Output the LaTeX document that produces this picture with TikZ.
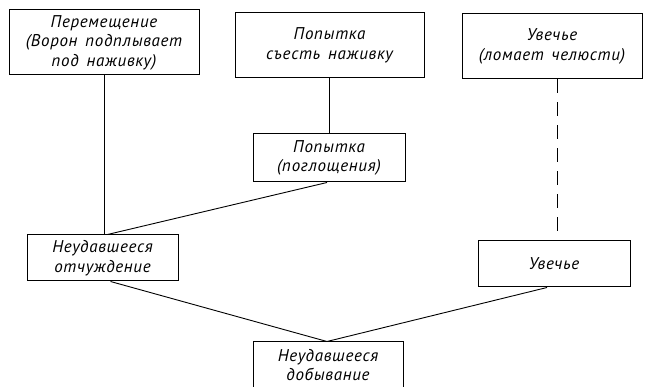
\documentclass[tikz,border=0pt]{standalone}
\usepackage{fontspec}
\setmainfont{PT Sans}
\newfontfamily\draftfont[LetterSpace=4,WordSpace=1.5]{PT Sans Italic}
\begin{document}
\begin{tikzpicture}[x=1pt,y=-1pt,
  box/.style={draw, line width=1pt, align=center, inner sep=0pt,
    font=\draftfont\fontsize{17}{19.5}\selectfont},
  link/.style={line width=0.9pt},
  brokenlink/.style={line width=0.9pt, dash pattern=on 14pt off 9pt}]
  \clip (0,0) rectangle (646,387);
  \fill[white] (0,0) rectangle (646,387);

  % upper row
  \node[box, minimum width=190, minimum height=65] (move) at (104,42.5)
    {Перемещение\\(Ворон подплывает\\под наживку)};
  \node[box, minimum width=189, minimum height=65] (eat) at (329.5,45.5)
    {Попытка\\съесть наживку};
  \node[box, minimum width=180, minimum height=65] (harm) at (552,46.5)
    {Увечье\\(ломает челюсти)};

  % middle
  \node[box, minimum width=152, minimum height=48] (swallow) at (329,158)
    {Попытка\\(поглощения)};

  % lower row
  \node[box, minimum width=151, minimum height=46] (alien) at (102.5,258)
    {Неудавшееся\\отчуждение};
  \node[box, minimum width=152, minimum height=46] (injury) at (554,264)
    {Увечье};

  % bottom, running off the lower edge
  \node[box, minimum width=150, minimum height=46] (fail) at (328,365)
    {Неудавшееся\\добывание};

  % connectors
  \draw[link] (move.south) -- (move.south |- alien.north);
  \draw[link] (eat.south) -- (eat.south |- swallow.north);
  \draw[brokenlink] ([xshift=5]harm.south) -- ([xshift=5]harm.south |- injury.north);
  \draw[link] ([xshift=-2]swallow.south) -- ([xshift=5]alien.north);
  \draw[link] ([xshift=8]alien.south) -- ([xshift=-1]fail.north);
  \draw[link] ([xshift=-7]injury.south) -- ([xshift=-1]fail.north);
\end{tikzpicture}
\end{document}
